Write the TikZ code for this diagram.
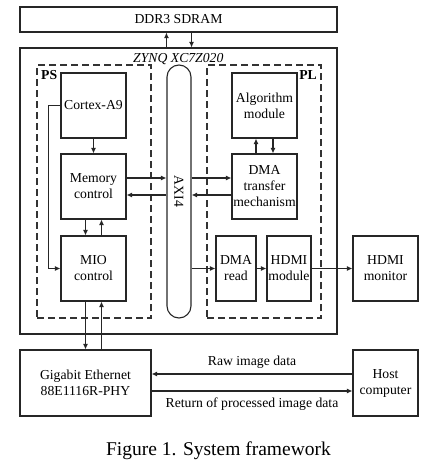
\documentclass[tikz,border=0pt]{standalone}
\usepackage{fontspec}
\setmainfont{Liberation Serif}
\usetikzlibrary{arrows.meta}
\newcommand{\blockfont}{\fontsize{13.7}{16}\selectfont}
\newcommand{\captionfont}{\fontsize{19.5}{23}\selectfont}

\begin{document}
\begin{tikzpicture}
[x=1pt,y=-1pt,
  boxDecorate/.style={shape=rectangle,draw=black!85,line width=1.1pt,inner sep=1pt,
    align=center,minimum width=65pt,minimum height=65pt,font=\blockfont},
  frameDecorate/.style={boxDecorate,minimum width=317pt},
  dashDecorate/.style={shape=rectangle,draw=black!80,line width=1.1pt,
    dash pattern=on 7pt off 4pt,minimum width=114pt,minimum height=253pt},
  busDecorate/.style={shape=rectangle,draw=black!85,line width=1.1pt,
    rounded corners=12pt,minimum width=24pt,minimum height=253pt},
  textDecorate/.style={inner sep=0pt,font=\blockfont},
  arrowDecorate/.style={-{Latex[length=5.5pt,width=5pt]},line width=1.1pt,draw=black!85}]
\useasboundingbox (0,0) rectangle (438,463);
%% frames
\node (ddr) at (178.5,19.5) [frameDecorate,minimum height=25pt] {DDR3 SDRAM};
\node (zynq) at (178.5,191) [frameDecorate,minimum height=286pt] {};
\node (ps) at (94,191.5) [dashDecorate] {};
\node (pl) at (264,191.5) [dashDecorate] {};
\node (axi) at (179,191.5) [busDecorate,
  label={[rotate=-90,textDecorate]center:AXI4}] {};
\node (zynqlabel) at (133,62) [textDecorate,anchor=base west,font=\blockfont\itshape] {ZYNQ XC7Z020};
\node (pslabel) at (41,79) [textDecorate,anchor=base west,font=\blockfont\bfseries] {PS};
\node (pllabel) at (317,79) [textDecorate,anchor=base east,font=\blockfont\bfseries] {PL};
%% blocks
\foreach \nodename/\x/\y/\nodetext in {
  cortex/93.5/105.5/Cortex-A9, mem/93.5/186.5/{Memory\\control},
  mio/93.5/268.5/{MIO\\control}, algo/264.5/105.5/{Algorithm\\module},
  dma/264.5/186.5/{DMA\\transfer\\mechanism}, mon/385.5/268.5/{HDMI\\monitor}}
{
  \node (\nodename) at (\x,\y) [boxDecorate] {\nodetext};
}
\node (dmar) at (236,268.5) [boxDecorate,minimum width=40pt] {DMA\\read};
\node (hdmim) at (289,268.5) [boxDecorate,minimum width=44pt] {HDMI\\module};
\node (gig) at (85.5,383) [boxDecorate,minimum width=131pt,minimum height=66pt] {Gigabit Ethernet\\88E1116R-PHY};
\node (host) at (385.5,383) [boxDecorate,minimum height=66pt] {Host\\computer};
%% helper points
\coordinate (memL) at ([xshift=-8pt]mem.south);
\coordinate (memR) at ([xshift=8pt]mem.south);
\coordinate (mioL) at ([xshift=-8pt]mio.south);
\coordinate (mioR) at ([xshift=8pt]mio.south);
\coordinate (memU) at ([yshift=8.5pt]mem.east);
\coordinate (memD) at ([yshift=-8.5pt]mem.east);
\coordinate (dmaL) at ([xshift=-8.5pt]dma.north);
\coordinate (dmaR) at ([xshift=8.5pt]dma.north);
\coordinate (hostU) at ([yshift=9pt]host.west);
\coordinate (hostD) at ([yshift=-8pt]host.west);
%% connectors
\path
\foreach \startnode/\endnode in {cortex/mem, dmar/hdmim, hdmim/mon}
{
  (\startnode) edge[arrowDecorate] (\endnode)
};
\draw[arrowDecorate] (zynq.north -| axi.west) -- (ddr.south -| axi.west);
\draw[arrowDecorate] (ddr.south -| axi.east) -- (zynq.north -| axi.east);
\draw[arrowDecorate] (cortex.west) -- ++(-12,0) |- (mio.west);
\draw[arrowDecorate] (memL) -- (memL |- mio.north);
\draw[arrowDecorate] (memR |- mio.north) -- (memR);
\draw[arrowDecorate] (mioL) -- (mioL |- gig.north);
\draw[arrowDecorate] (mioR |- gig.north) -- (mioR);
\draw[arrowDecorate] (memU) -- (memU -| axi.west);
\draw[arrowDecorate] (memD -| axi.west) -- (memD);
\draw[arrowDecorate] (memU -| axi.east) -- (memU -| dma.west);
\draw[arrowDecorate] (memD -| dma.west) -- (memD -| axi.east);
\draw[arrowDecorate] (dmaL) -- (dmaL |- algo.south);
\draw[arrowDecorate] (dmaR |- algo.south) -- (dmaR);
\draw[arrowDecorate] (dmar.west -| axi.east) -- (dmar.west);
\draw[arrowDecorate] (hostU) -- (hostU -| gig.east)
  node[midway,above,inner sep=5pt,font=\blockfont] {Raw image data};
\draw[arrowDecorate] (hostD -| gig.east) -- (hostD)
  node[midway,below,inner sep=6pt,font=\blockfont] {Return of processed image data};
%% caption
\node (caption) at (218.5,455) [anchor=base,inner sep=0pt,font=\captionfont] {Figure 1. System framework};
\end{tikzpicture}
\end{document}
